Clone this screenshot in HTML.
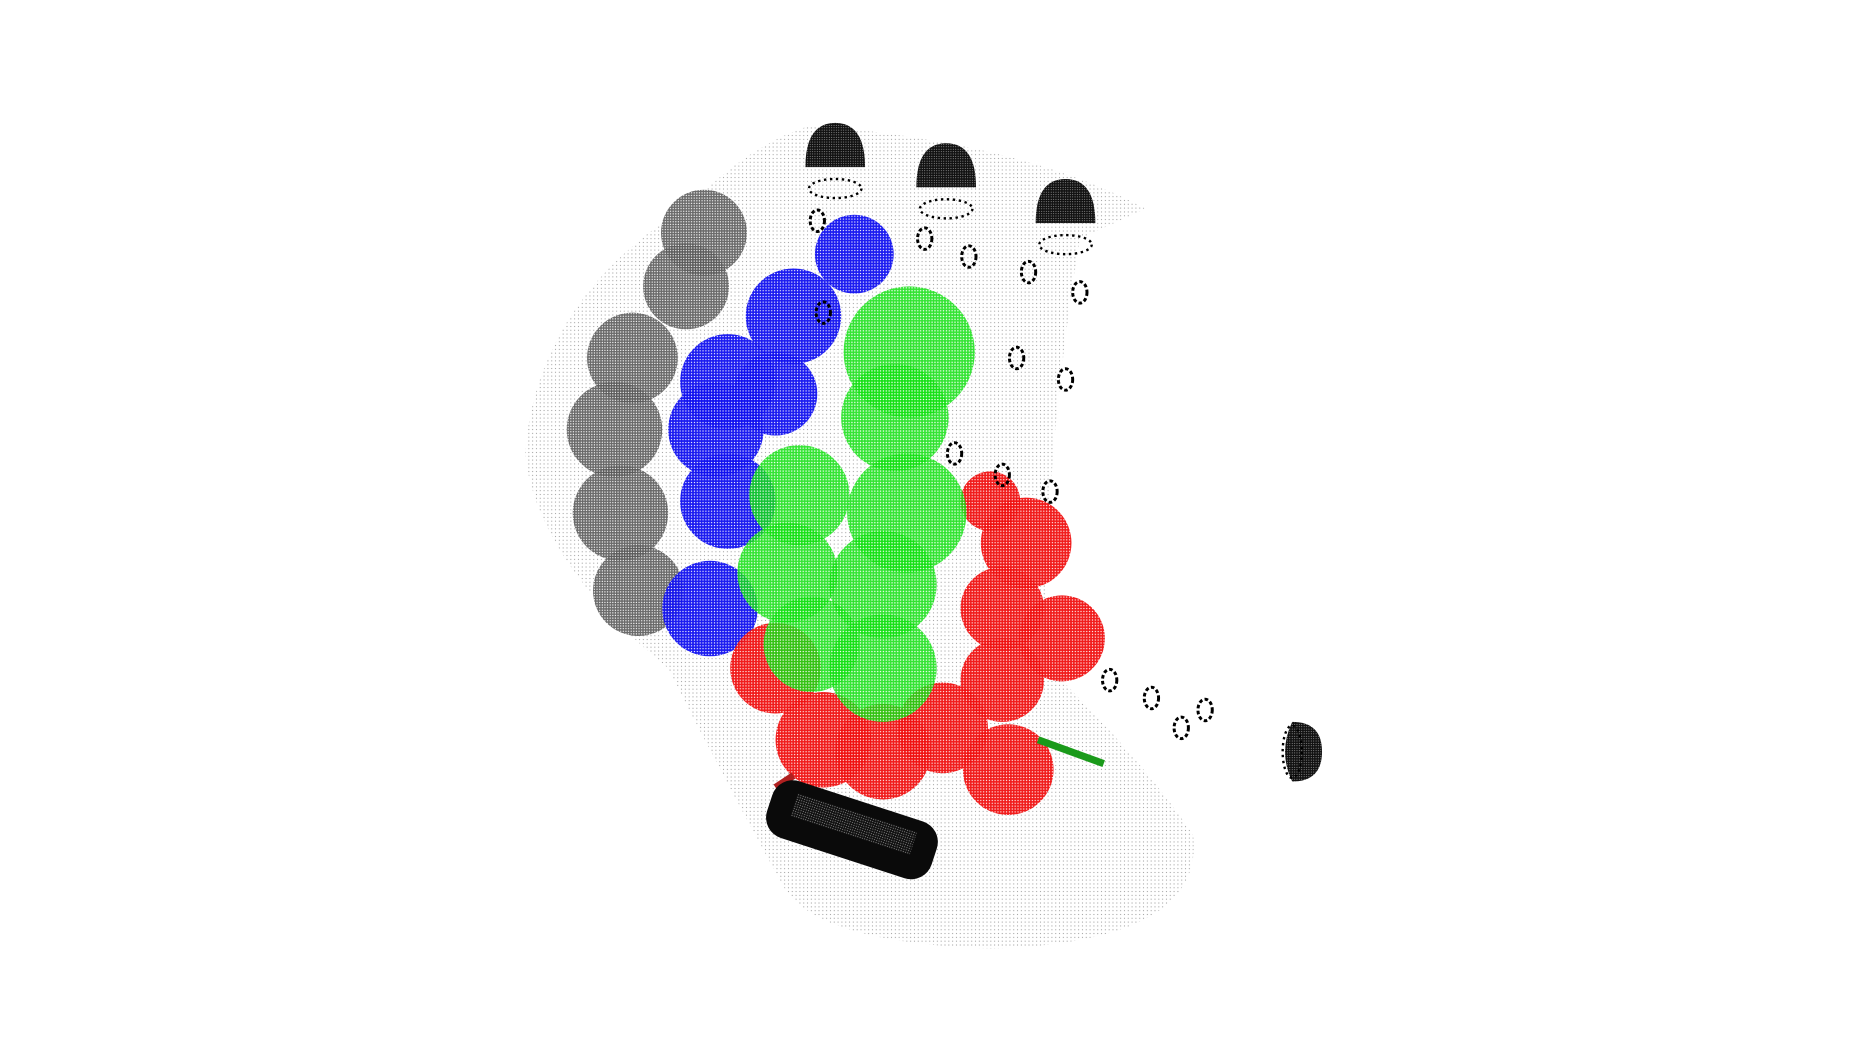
<!DOCTYPE html>
<html><head><meta charset="utf-8"><style>
html,body{margin:0;padding:0;background:#fff;width:1853px;height:1056px;overflow:hidden}
svg{display:block}
</style></head><body>
<svg id="scene" width="1853" height="1056" viewBox="0 0 1553 885" xmlns="http://www.w3.org/2000/svg">
<defs>
<pattern id="pg" width="3.2" height="3.2" patternUnits="userSpaceOnUse"><circle cx="1.6" cy="1.6" r="0.5" fill="#444"/></pattern>
<pattern id="pgray" width="2.2" height="2.2" patternUnits="userSpaceOnUse"><rect width="2.2" height="2.2" fill="#5a5a5a"/><circle cx="1" cy="1" r="0.55" fill="#fff"/></pattern>
<pattern id="pblue" width="2.4" height="2.4" patternUnits="userSpaceOnUse"><rect width="2.4" height="2.4" fill="#1010f0"/><circle cx="1.2" cy="1.2" r="0.55" fill="#fff"/></pattern>
<pattern id="pgreen" width="2.4" height="2.4" patternUnits="userSpaceOnUse"><rect width="2.4" height="2.4" fill="#10e010"/><circle cx="1.2" cy="1.2" r="0.6" fill="#fff"/></pattern>
<pattern id="pred" width="2.4" height="2.4" patternUnits="userSpaceOnUse"><rect width="2.4" height="2.4" fill="#f01010"/><circle cx="1.2" cy="1.2" r="0.55" fill="#fff"/></pattern>
<pattern id="pblack" width="2" height="2" patternUnits="userSpaceOnUse"><rect width="2" height="2" fill="#111"/><circle cx="1" cy="1" r="0.35" fill="#fff"/></pattern>
</defs>
<path d="M680,105 Q860,120 960,175 L905,200 Q870,420 880,560 Q960,640 1000,700 Q1010,790 830,795 Q680,790 655,740 Q600,640 560,560 Q450,470 440,380 Q450,250 580,170 Q630,120 680,105 Z" fill="url(#pg)" opacity="0.5"/>
<g id="spheres"></g>
<line x1="870" y1="620" x2="925" y2="640" stroke="#1a9a1a" stroke-width="6"/>
<line x1="650" y1="660" x2="665" y2="650" stroke="#b02020" stroke-width="6"/>
<g transform="rotate(18 712 700)">
<rect x="640" y="670" width="145" height="50" rx="18" fill="#0a0a0a"/>
<rect x="660" y="680" width="105" height="20" fill="url(#pblack)"/>
</g>
<g id="columns"></g>
</svg>
<script>
const grayX=[590,575,530,515,520,535];
const grayY=[195,240,300,360,430,495];
const grayR=[36,36,38,40,40,38];
const blueX=[716,665,610,650,600,610,595];
const blueY=[213,265,320,330,360,420,510];
const blueR=[33,40,40,35,40,40,40];
const redX=[830,860,840,890,840,650,690,740,790,845];
const redY=[420,455,510,535,570,560,620,630,610,645];
const redR=[25,38,35,36,35,38,40,40,38,38];
const greenX=[762,750,670,760,660,740,740,680];
const greenY=[295,350,415,430,480,490,560,540];
const greenR=[55,45,42,50,42,45,45,40];
const domeX=[700,793,893,1083];
const domeY=[128,145,175,630];
const ns='http://www.w3.org/2000/svg';
const g=document.getElementById('spheres');
function draw(xs,ys,rs,fill,name,op){
 for(let i=0;i<xs.length;i++){
  const c=document.createElementNS(ns,'circle');
  c.setAttribute('cx',xs[i]);c.setAttribute('cy',ys[i]);c.setAttribute('r',rs[i]);
  c.setAttribute('fill',fill);c.setAttribute('opacity',op);
  
  
  g.appendChild(c);
 }
}
draw(grayX,grayY,grayR,'url(#pgray)','gray-sphere',0.9);
draw(blueX,blueY,blueR,'url(#pblue)','blue-sphere',0.95);
draw(redX,redY,redR,'url(#pred)','red-sphere',0.95);
draw(greenX,greenY,greenR,'url(#pgreen)','green-sphere',0.85);
const col=document.getElementById('columns');
for(let i=0;i<domeX.length;i++){
 const d=document.createElementNS(ns,'path');
 const x=domeX[i],y=domeY[i],r=25;
 d.setAttribute('d',i<3?`M${x-r},${y+12} Q${x-r},${y-r} ${x},${y-r} Q${x+r},${y-r} ${x+r},${y+12} Z`:`M${x},${y-r} Q${x+r},${y-r} ${x+r},${y} Q${x+r},${y+r} ${x},${y+r} Q${x-12},${y} ${x},${y-r} Z`);
 d.setAttribute('fill','url(#pblack)');
 
 
 col.appendChild(d);
 const e=document.createElementNS(ns,'ellipse');
 e.setAttribute('cx',x);e.setAttribute('cy',i<3?y+30:y);e.setAttribute('rx',i<3?22:8);e.setAttribute('ry',i<3?8:22);
 e.setAttribute('fill','none');e.setAttribute('stroke','#000');e.setAttribute('stroke-width','2');e.setAttribute('stroke-dasharray','2 3');
 
 
 col.appendChild(e);
}
const markX=[685,775,812,862,905,690,852,893,840,880,800,930,1010,965,990];
const markY=[185,200,215,228,245,262,300,318,398,412,380,570,595,585,610];
for(let i=0;i<markX.length;i++){
 const m=document.createElementNS(ns,'ellipse');
 m.setAttribute('cx',markX[i]);m.setAttribute('cy',markY[i]);m.setAttribute('rx',6);m.setAttribute('ry',9);
 m.setAttribute('fill','none');m.setAttribute('stroke','#000');m.setAttribute('stroke-width','2.5');m.setAttribute('stroke-dasharray','3 2');
 
 
 col.appendChild(m);
}
</script>
</body></html>
